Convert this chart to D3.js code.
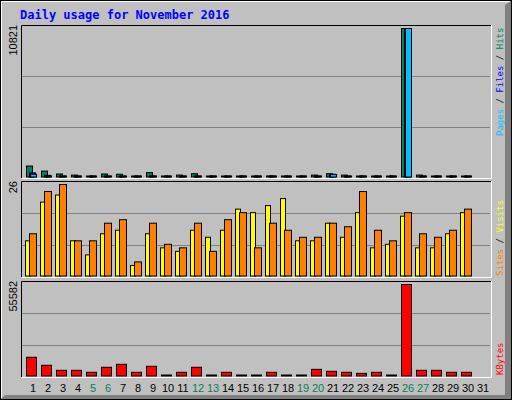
<!DOCTYPE html>
<html><head><meta charset="utf-8">
<script src="https://cdn.jsdelivr.net/npm/d3@7"></script>
<style>body{margin:0;background:#fff}</style>
</head><body>
<script>
// daily values, November 2016
let days = d3.range(1, 32)
let hits = [800,430,220,140,40,220,200,40,320,40,140,240,40,40,40,40,80,40,40,140,240,140,40,40,40,10821,140,40,40,40]
let files = [300,120,80,60,30,60,60,30,80,30,50,70,30,30,30,30,40,30,30,60,200,50,30,30,30,10821,60,30,30,30]
let pages = [200,80,50,40,20,40,40,20,60,20,30,50,20,20,20,20,30,20,20,40,180,40,20,20,20,10821,40,20,20,20]
let visits = [10,21,23,10,6,12,13,3,12,8,7,13,11,13,19,18,20,22,10,10,15,11,18,8,9,17,8,8,12,18]
let sites = [12,24,26,10,10,15,16,4,15,9,8,15,7,16,18,8,15,13,11,11,15,14,24,13,10,18,12,11,13,19]
let kbytes = [11370,6500,3450,3450,2250,5300,7100,2250,5900,100,2250,5300,100,2250,100,100,2250,100,100,4050,2850,2250,1600,2250,100,55582,3450,3450,2250,2250]
let weekend = [5,6,12,13,19,20,26,27]

const W = 512, H = 400
const svg = d3.select("body").append("svg").attr("width", W).attr("height", H)
    .style("font-family", "'DejaVu Sans Mono', monospace")

// window frame
svg.append("rect").attr("width", W).attr("height", H).attr("fill", "#c0c0c0")
svg.append("path").attr("d", "M505,5 L505,395 L5,395 L0,400 L512,400 L512,0 Z").attr("fill", "#808080")
svg.append("rect").attr("x", 0.5).attr("y", 0.5).attr("width", W - 1).attr("height", H - 1)
    .attr("fill", "none").attr("stroke", "#000")
svg.append("path").attr("d", "M1.5,398 L1.5,1.5 L510,1.5").attr("fill", "none").attr("stroke", "#fff")

svg.append("text").attr("x", 20).attr("y", 19).text("Daily usage for November 2016")
    .attr("fill", "#0000ff").attr("font-weight", "bold").attr("font-size", 12)

let x = d3.scaleLinear().domain([1, 31]).range([26, 476])

function panel(y0, y1, max, label) {
    let g = svg.append("g")
    g.append("rect").attr("x", 21).attr("y", y0).attr("width", 470).attr("height", y1 - y0)
        .attr("fill", "#c0c0c0")
    let y = d3.scaleLinear().domain([0, max]).range([y1 - 1.5, y0 + 3])
    ;[1 / 3, 2 / 3].forEach(f => {
        let gy = Math.round(y0 + (y1 - y0) * f) + 0.5
        g.append("line").attr("x1", 22).attr("x2", 490).attr("y1", gy).attr("y2", gy)
            .attr("stroke", "#808080")
    })
    g.append("path").attr("d", `M21.5,${y1} L21.5,${y0 + 0.5} L491,${y0 + 0.5}`)
        .attr("fill", "none").attr("stroke", "#000")
    g.append("path").attr("d", `M22,${y1 + 0.5} L491.5,${y1 + 0.5} L491.5,${y0}`)
        .attr("fill", "none").attr("stroke", "#fff")
    g.append("text").attr("transform", `translate(17,${y0}) rotate(-90)`)
        .attr("text-anchor", "end").attr("font-size", 11).attr("font-family", "'Liberation Sans', sans-serif")
        .text(label)
    return { g, y }
}

function bars(p, data, dx, w, color) {
    p.g.selectAll(null).data(data).enter().append("rect")
        .attr("x", (d, i) => x(i + 1) + dx + 0.5)
        .attr("y", d => Math.min(p.y(d), p.y(0) - 1) + 0.5)
        .attr("width", w)
        .attr("height", d => Math.max(p.y(0) - p.y(d), 1))
        .attr("fill", color).attr("stroke", "#000")
}

let p1 = panel(25, 178, 10821, "10821")
bars(p1, hits, 0, 6, "#00805c")
bars(p1, files, 3, 6, "#0000ff")
bars(p1, pages, 4, 6, "#00c0ff")

let p2 = panel(181, 277, 26, "26")
bars(p2, visits, -1, 5, "#ffff00")
bars(p2, sites, 3, 7, "#ff8000")

let p3 = panel(281, 377, 55582, "55582")
bars(p3, kbytes, 0, 10, "#ff0000")

svg.selectAll(".day").data(days).enter().append("text")
    .attr("x", d => x(d) + 7).attr("y", 392).attr("text-anchor", "middle")
    .attr("font-size", 11).attr("font-family", "'Liberation Sans', sans-serif")
    .attr("fill", d => weekend.includes(d) ? "#00805c" : "#000")
    .text(d => d)

function sideLabel(yb, parts) {
    let t = svg.append("text").attr("transform", `translate(503,${yb}) rotate(-90)`)
        .attr("font-size", 9)
    parts.forEach(([s, c]) => t.append("tspan").attr("fill", c).text(s))
}
sideLabel(136, [["Pages", "#00c0ff"], [" / ", "#000"], ["Files", "#0000ff"], [" / ", "#000"], ["Hits", "#00805c"]])
sideLabel(276, [["Sites", "#ff8000"], [" / ", "#000"], ["Visits", "#ffff00"]])
sideLabel(375, [["KBytes", "#ff0000"]])
</script>
</body></html>
